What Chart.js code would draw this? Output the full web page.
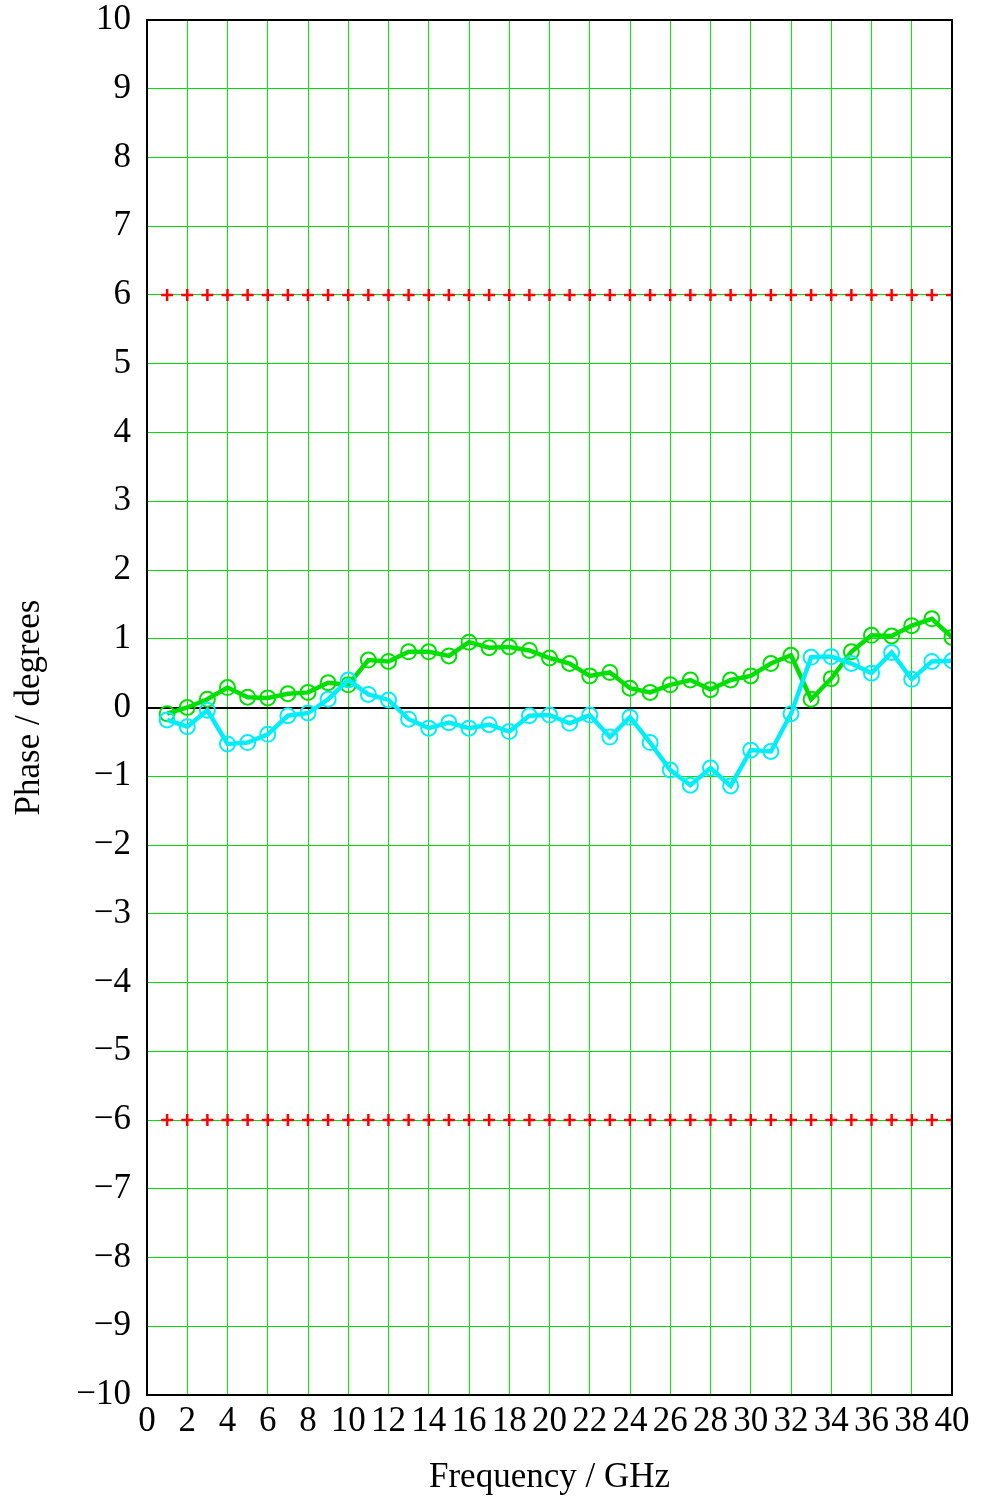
<!DOCTYPE html>
<html><head><meta charset="utf-8">
<script src="https://cdn.jsdelivr.net/npm/chart.js@4"></script>
<style>html,body{margin:0;padding:0;background:#fff}#wrap{width:987px;height:1499px;position:relative}</style>
</head><body><div id="wrap"><canvas id="c"></canvas></div>
<script>
const freqs = [1,2,3,4,5,6,7,8,9,10,11,12,13,14,15,16,17,18,19,20,21,22,23,24,25,26,27,28,29,30,31,32,33,34,35,36,37,38,39,40];
const greenPhase = [-0.09,0.00,0.12,0.29,0.15,0.14,0.20,0.22,0.36,0.33,0.69,0.67,0.81,0.81,0.75,0.95,0.87,0.88,0.83,0.72,0.64,0.46,0.51,0.28,0.22,0.33,0.40,0.26,0.40,0.46,0.64,0.76,0.12,0.42,0.81,1.05,1.04,1.19,1.29,1.02];
const cyanPhase = [-0.18,-0.28,-0.04,-0.53,-0.51,-0.39,-0.12,-0.08,0.12,0.40,0.19,0.11,-0.17,-0.30,-0.22,-0.30,-0.25,-0.35,-0.12,-0.11,-0.23,-0.11,-0.43,-0.14,-0.51,-0.91,-1.13,-0.88,-1.14,-0.62,-0.64,-0.09,0.73,0.74,0.64,0.50,0.80,0.41,0.67,0.68];
const upperLimit = 6;
const lowerLimit = -6;
const xTicks = [0,2,4,6,8,10,12,14,16,18,20,22,24,26,28,30,32,34,36,38,40];
const yTicks = [-10,-9,-8,-7,-6,-5,-4,-3,-2,-1,0,1,2,3,4,5,6,7,8,9,10];

const pts = (xs, ys) => xs.map((x,i)=>({x:x, y: Array.isArray(ys)? ys[i] : ys}));
const font = {family:"'Liberation Serif', 'DejaVu Serif', serif", size:35};

const frame = {id:'frame', afterDraw(chart){const {ctx, chartArea:a}=chart; ctx.save(); ctx.strokeStyle='#000'; ctx.lineWidth=2; ctx.strokeRect(a.left,a.top,a.right-a.left,a.bottom-a.top); ctx.restore();}};

new Chart(document.getElementById('c'), {
  type:'line',
  data:{datasets:[
    {data:pts(freqs, upperLimit), showLine:false, pointStyle:'cross', pointRadius:6, borderColor:'#ff0000', pointBorderWidth:2.5, backgroundColor:'#ff0000'},
    {data:pts(freqs, lowerLimit), showLine:false, pointStyle:'cross', pointRadius:6, borderColor:'#ff0000', pointBorderWidth:2.5, backgroundColor:'#ff0000'},
    {data:pts(freqs, cyanPhase), borderColor:'#00eef8', borderWidth:4.5, pointRadius:7.5, pointBorderWidth:2, pointBackgroundColor:'rgba(0,0,0,0)', pointBorderColor:'#00eef8', tension:0},
    {data:pts(freqs, greenPhase), borderColor:'#00e000', borderWidth:4.5, pointRadius:7.5, pointBorderWidth:2, pointBackgroundColor:'rgba(0,0,0,0)', pointBorderColor:'#00e000', tension:0}
  ]},
  options:{
    responsive:true, maintainAspectRatio:false, animation:false,
    layout:{padding:{top:20,right:35,bottom:0,left:0}},
    plugins:{legend:{display:false}, tooltip:{enabled:false}},
    scales:{
      x:{type:'linear', min:0, max:40,
        afterBuildTicks:(s)=>{s.ticks = xTicks.map(v=>({value:v}));},
        afterFit:(s)=>{s.height=104; s.paddingLeft=0; s.paddingRight=0;},
        grid:{color:'#00ee00', lineWidth:1, drawTicks:false},
        border:{display:true,color:'#000',width:2},
        ticks:{font:font, color:'#000', padding:6, maxRotation:0, autoSkip:false},
        title:{display:true, text:'Frequency / GHz', font:font, color:'#000', padding:{top:13,bottom:0}}
      },
      y:{type:'linear', min:-10, max:10,
        afterBuildTicks:(s)=>{s.ticks = yTicks.map(v=>({value:v}));},
        afterFit:(s)=>{s.width=147; s.paddingTop=0; s.paddingBottom=0;},
        grid:{color:(c)=> c.tick && c.tick.value===0 ? '#000' : '#00dd00', lineWidth:(c)=> c.tick && c.tick.value===0 ? 2 : 1, drawTicks:false},
        border:{display:true,color:'#000',width:2},
        ticks:{font:font, color:'#000', padding:16, autoSkip:false, callback:(v)=> v<0 ? '\u2212'+Math.abs(v) : String(v)},
        title:{display:true, text:'Phase / degrees', font:font, color:'#000', padding:{top:9,bottom:12}}
      }
    }
  },
  plugins:[frame]
});
</script></body></html>
